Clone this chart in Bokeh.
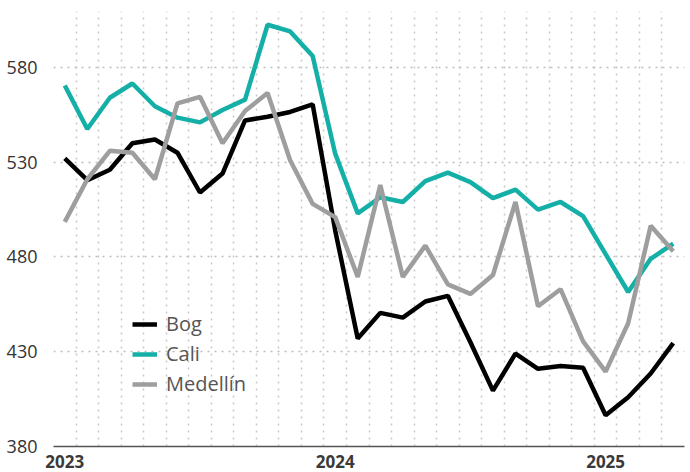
from bokeh.plotting import figure
from bokeh.models import FixedTicker, Legend, LegendItem, ColumnDataSource
from bokeh.embed import file_html
from bokeh.resources import INLINE

months = list(range(28))  # Jan 2023 .. Apr 2025
year_ticks = [0, 12, 24]
year_labels = ["2023", "2024", "2025"]
y_ticks = [380, 430, 480, 530, 580]

bog = [532, 520.5, 526, 540, 542, 535, 514, 524, 552, 554, 556.5, 560.5,
       494, 437, 450.5, 448, 456.5, 459.5, 435, 409.5, 429, 421, 422.5, 421.5,
       396.5, 406, 418.5, 434.5]
cali = [570.5, 547.5, 564, 571.5, 559.5, 553.5, 551, 557.5, 563, 602.5, 599, 586,
        534.5, 503, 511.5, 509, 520, 524.5, 519.5, 511, 515.5, 505, 509, 501.5,
        481.5, 461.5, 479, 487]
med = [498.5, 521, 536, 535, 521, 561, 564.5, 540, 557, 566.5, 531, 508,
       501, 469.5, 518, 469.5, 486, 465.5, 460.5, 470.5, 509, 454, 463, 435.5,
       419.5, 445, 496.5, 483]

series = [("Bog", bog, "#000000"), ("Cali", cali, "#14afa6"), ("Medellín", med, "#9e9e9e")]

p = figure(width=690, height=472, output_backend="svg", toolbar_location=None,
           x_range=(-0.5, 27.5), y_range=(380, 609.5),
           min_border_left=53, min_border_right=6, min_border_top=11, min_border_bottom=26)
p.outline_line_color = None
p.background_fill_color = "white"

items = []
for name, vals, col in series:
    src = ColumnDataSource(dict(x=months, y=vals))
    r = p.line("x", "y", source=src, line_color=col, line_width=4.5)
    items.append(LegendItem(label=name, renderers=[r]))

# axes
p.xaxis.ticker = FixedTicker(ticks=year_ticks)
p.xaxis.major_label_overrides = {t: l for t, l in zip(year_ticks, year_labels)}
p.xaxis.major_tick_line_color = None
p.xaxis.minor_tick_line_color = None
p.xaxis.axis_line_color = "#555555"
p.xaxis.axis_line_width = 1.5
p.xaxis.major_label_text_font = "Open Sans"
p.xaxis.major_label_text_font_style = "bold"
p.xaxis.major_label_text_font_size = "17px"
p.xaxis.major_label_text_color = "#3a3a3a"
p.xaxis.major_label_standoff = 2

p.yaxis.ticker = FixedTicker(ticks=y_ticks)
p.yaxis.axis_line_color = None
p.yaxis.major_tick_line_color = None
p.yaxis.minor_tick_line_color = None
p.yaxis.major_label_text_font = "Open Sans"
p.yaxis.major_label_text_font_size = "18px"
p.yaxis.major_label_text_color = "#333333"
p.yaxis.major_label_standoff = 10

# grids
p.ygrid.ticker = FixedTicker(ticks=[430, 480, 530, 580])
p.ygrid.grid_line_color = "#bdbdbd"
p.ygrid.grid_line_dash = "2 5"
p.ygrid.grid_line_width = 1.5
p.xgrid.ticker = FixedTicker(ticks=[m - 0.5 for m in months] + [27.5])
p.xgrid.grid_line_color = "#c8c8c8"
p.xgrid.grid_line_dash = "2 5"
p.xgrid.grid_line_width = 1.5

legend = Legend(items=items, location=(79, 49), padding=0, margin=0, spacing=3,
                glyph_width=25, glyph_height=20, label_height=20,
                label_text_font="Open Sans", label_text_font_size="20px",
                label_text_color="#555555", border_line_color=None,
                background_fill_alpha=0, label_standoff=9)
p.add_layout(legend)

open("out.html", "w").write(file_html(p, INLINE))
